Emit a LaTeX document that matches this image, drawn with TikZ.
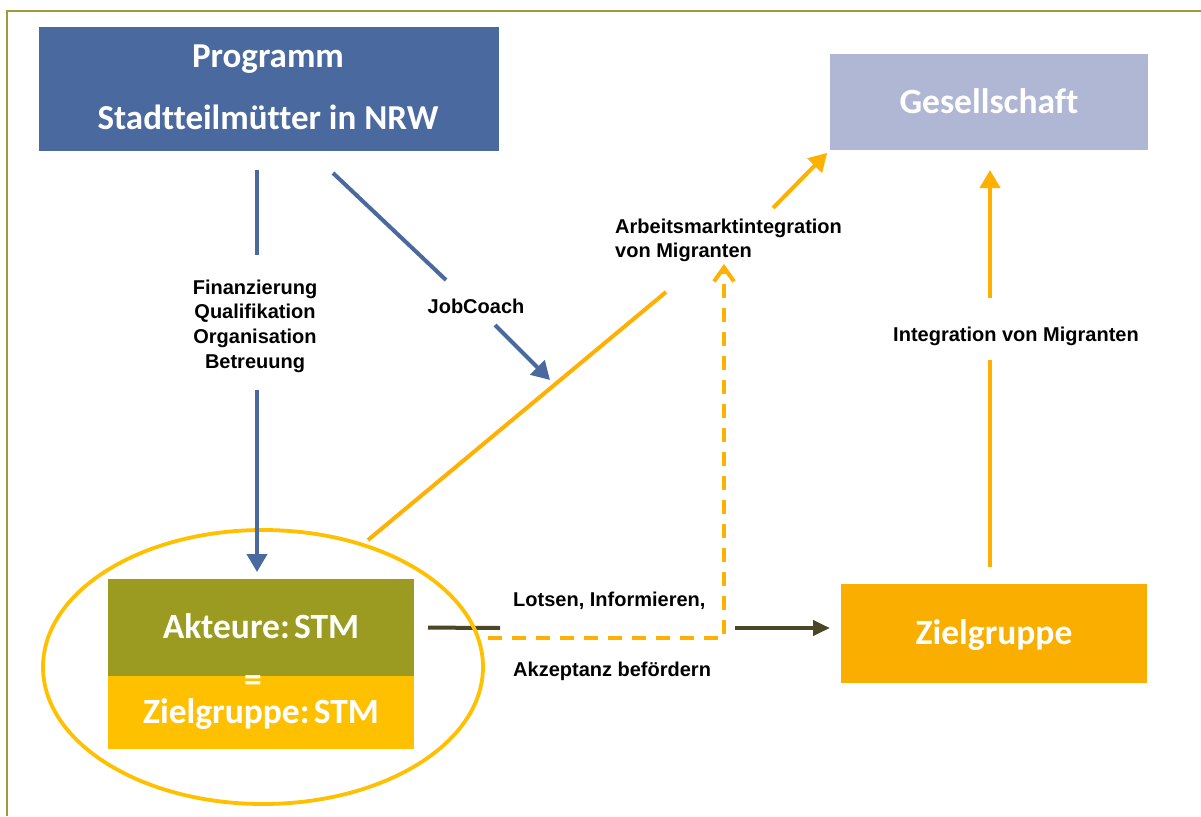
\documentclass[tikz,border=0pt]{standalone}
\usepackage{fontspec}
\setmainfont{Liberation Sans}
\newfontfamily\carlito[Ligatures=NoCommon]{Carlito}
\usetikzlibrary{arrows.meta,shapes.geometric}
\definecolor{progblue}{HTML}{4A699E}
\definecolor{gesell}{HTML}{B0B7D4}
\definecolor{olivebox}{HTML}{9A9B20}
\definecolor{stmyellow}{HTML}{FFC000}
\definecolor{zgorange}{HTML}{F9AE00}
\definecolor{orstroke}{HTML}{FFB000}
\definecolor{darkolive}{HTML}{4B4623}
\definecolor{frameolive}{HTML}{9C9C3C}
\newcommand\boxfont{\carlito\bfseries\fontsize{35.5}{42}\selectfont}
\newcommand\labfont{\bfseries\fontsize{20}{24.7}\selectfont}
\begin{document}
\begin{tikzpicture}[x=1pt,y=-1pt,
  boxbase/.style={inner sep=0pt, outer sep=0pt, text=white, font=\boxfont},
  box/.style={boxbase, text height=22.9pt, text depth=0pt},
  lab/.style={inner sep=0pt, font=\labfont},
  lab1/.style={lab, text height=14.3pt, text depth=0pt},
  blueline/.style={draw=progblue, line width=4pt},
  orline/.style={draw=orstroke, line width=4pt},
  dkline/.style={draw=darkolive, line width=4pt},
  tri/.style={-{Triangle[length=18pt,width=20pt]}},
]
\fill[white] (0,0) rectangle (1201,816);
\useasboundingbox (0,0) rectangle (1201,816);
\draw[frameolive, line width=1.5pt] (7,816) -- (7,11) -- (1201,11);

% boxes
\node[fill=progblue, minimum width=460, minimum height=124, inner sep=0pt] (prog) at (269,89) {};
\node[boxbase, align=center, font=\carlito\bfseries\fontsize{35}{62}\selectfont] (progtxt) at (268,87)
      {Programm\\Stadtteilmütter in NRW};
\node[box, fill=gesell, minimum width=318, minimum height=96] (ges) at (989,102) {Gesellschaft};
\node[box, fill=zgorange, minimum width=306, minimum height=99] (zg) at (994,633.5) {Zielgruppe};
\node[box, fill=olivebox, minimum width=306, minimum height=97] (akt) at (261,627.5) {Akteure:\hspace{0.12em}STM};
\node[box, fill=stmyellow, minimum width=306, minimum height=73] (zstm) at (261,712.5) {Zielgruppe:\hspace{0.12em}STM};
\node[boxbase, text height=16pt, text depth=0pt] (eq) at (253,683) {=};

% dark connector Akteure -> Zielgruppe
\coordinate (g1) at (500,628);
\coordinate (g2) at (735,628);
\draw[dkline, shorten <=14pt] (akt.east) -- (g1);
\draw[dkline, -{Triangle[length=17pt,width=15pt]}, shorten >=11pt] (g2) -- (g2 -| zg.west);
\node[lab1, anchor=west] (lots) at (513,599) {Lotsen, Informieren,};
\node[lab1, anchor=west] (akz) at (513,669) {Akzeptanz befördern};

% ellipse round the actors
\node[ellipse, draw=stmyellow, line width=3.8pt, minimum width=440, minimum height=274, inner sep=0pt] (ell) at (263,667) {};

% blue connectors
\coordinate (b1) at (257,170);
\coordinate (b2) at (257,255);
\coordinate (b3) at (257,390);
\node[lab, align=center] (fin) at (255,326) {Finanzierung\\Qualifikation\\Organisation\\Betreuung};
\draw[blueline] (b1) -- (b2);
\draw[blueline, tri, shorten >=7pt] (b3) -- (b3 |- akt.north);

\coordinate (j1) at (333,173);
\coordinate (j2) at (446,280);
\coordinate (j3) at (495,325);
\coordinate (j4) at (550,380);
\node[lab1] (job) at (476,306) {JobCoach};
\draw[blueline] (j1) -- (j2);
\draw[blueline, tri] (j3) -- (j4);

% orange: ellipse -> Gesellschaft
\coordinate (o1) at (368,540);
\coordinate (o2) at (666,292);
\coordinate (o3) at (773,208);
\node[lab, align=left, anchor=west] (arb) at (615,240.5) {Arbeitsmarktintegration\\von Migranten};
\draw[orline] (o1) -- (o2);
\draw[orline, tri, shorten >=4pt] (o3) -- (ges.south west);

% orange dashed
\coordinate (d0) at (488,638);
\coordinate (dt) at (724,264);
\draw[orline, dash pattern=on 14pt off 10pt, -{Straight Barb[length=14pt,width=20pt]}] (d0) -- (d0 -| dt) -- (dt);

% orange: Zielgruppe -> Gesellschaft
\coordinate (r1) at (990,567);
\coordinate (r2) at (990,360);
\coordinate (r3) at (990,298);
\node[lab1] (integ) at (1016,334) {Integration von Migranten};
\draw[orline] (r1) -- (r2);
\draw[orline, tri, shorten >=20pt] (r3) -- (r3 |- ges.south);
\end{tikzpicture}
\end{document}
